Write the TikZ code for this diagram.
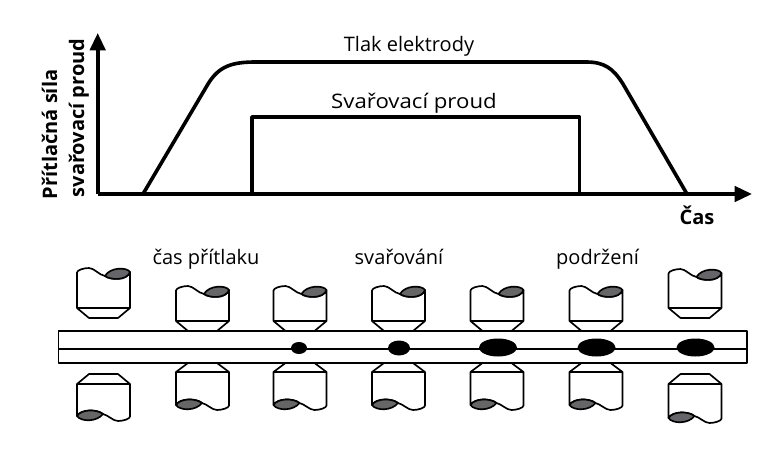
\documentclass[tikz,border=0pt]{standalone}
\usepackage{fontspec}
\setmainfont{Open Sans}
\usetikzlibrary{arrows.meta}
\definecolor{lens}{HTML}{666668}
\tikzset{x=0.75pt,y=-0.75pt,
  heavy/.style={line width=2.7pt,line join=round},
  axis/.style={heavy,-{Triangle[length=13pt,width=11.5pt]}},
  thin/.style={line width=1.25pt,line join=round},
  label/.style={font=\fontsize{15}{18}\selectfont,inner sep=0pt,anchor=base},
  blabel/.style={font=\fontsize{15}{18}\selectfont\bfseries,inner sep=0pt,anchor=base},
  weld/.style={fill=black,draw=none}}
% #1 left x, #2 top y of body (wave peak), #3 shoulder y, #4 tip y
\newcommand{\etop}[4]{%
  \draw[thin,fill=white] (#1,#2+4.5) .. controls (#1,#2+2) and (#1+7,#2) .. (#1+12,#2)
     .. controls (#1+17,#2) and (#1+22,#2+7) .. (#1+28,#2+8)
     .. controls (#1+33,#2+12) and (#1+50,#2+13) .. (#1+53,#2+4)
     -- (#1+53,#3) -- (#1+41,#4) -- (#1+12,#4) -- (#1,#3) -- cycle;
  \draw[thin] (#1,#3) -- (#1+53,#3);
  \draw[thin,fill=lens] (#1+28,#2+8) .. controls (#1+33,#2-1) and (#1+50,#2-1) .. (#1+53,#2+4)
     .. controls (#1+50,#2+13) and (#1+33,#2+12) .. (#1+28,#2+8) -- cycle;}
% #1 left x, #2 tip y, #3 shoulder y, #4 bottom y (wave trough)
\newcommand{\ebot}[4]{%
  \draw[thin,fill=white] (#1+12,#2) -- (#1+41,#2) -- (#1+53,#3) -- (#1+53,#4-4.5)
     .. controls (#1+53,#4-2) and (#1+46,#4) .. (#1+41,#4)
     .. controls (#1+36,#4) and (#1+31,#4-6) .. (#1+26,#4-7)
     .. controls (#1+20,#4-12) and (#1+4,#4-12) .. (#1,#4-5)
     -- (#1,#3) -- cycle;
  \draw[thin] (#1,#3) -- (#1+53,#3);
  \draw[thin,fill=lens] (#1+26,#4-7) .. controls (#1+20,#4+1) and (#1+4,#4+1) .. (#1,#4-5)
     .. controls (#1+4,#4-12) and (#1+20,#4-12) .. (#1+26,#4-7) -- cycle;}
\begin{document}
\begin{tikzpicture}
\useasboundingbox (0,0) rectangle (774,464);
% graph
\coordinate (origin) at (97.7,194);
\draw[axis] (origin) -- (97.7,33);
\draw[axis] (origin) -- (752,194);
\draw[heavy] (143,194) -- (208,84) .. controls (219,66) and (232,62) .. (256,62)
   -- (586,62) .. controls (604,62) and (613,68) .. (623,84) -- (687,194);
\draw[heavy] (252,194) -- (252,117) -- (579.5,117) -- (579.5,194);
\node[label] (tlak) at (409,51) {Tlak elektrody};
\node[label,xscale=1.11] (proud) at (414,108) {Svařovací proud};
\node[blabel] (cas) at (697,224) {Čas};
\node[blabel,rotate=90] (sila) at (57,134.5) {Přítlačná síla};
\node[blabel,rotate=90] (svar) at (84,118) {svařovací proud};
\node[label] (t1) at (206,264) {čas přítlaku};
\node[label] (t2) at (399,264) {svařování};
\node[label] (t3) at (597.5,264) {podržení};
% electrodes
\etop{77}{268}{308}{318}
\ebot{77}{374}{384}{421}
\etop{176}{286}{321}{331}
\ebot{176}{363}{372}{410}
\etop{273.5}{286}{321}{331}
\ebot{273.5}{363}{372}{410}
\etop{372}{286}{321}{331}
\ebot{372}{363}{372}{410}
\etop{470.5}{286}{321}{331}
\ebot{470.5}{363}{372}{410}
\etop{569.5}{286}{321}{331}
\ebot{569.5}{363}{372}{410}
\etop{668.5}{269}{308}{318}
\ebot{668.5}{374}{384}{423}
% plates
\draw[thin] (58.5,330.7) rectangle (747,363);
\draw[thin] (58.5,348.7) -- (747,348.7);
% weld nuggets
\fill[weld] (299,348) ellipse [x radius=8,y radius=6];
\fill[weld] (399,348) ellipse [x radius=11,y radius=7.5];
\fill[weld] (498,347.5) ellipse [x radius=19,y radius=9];
\fill[weld] (596.5,347.5) ellipse [x radius=19,y radius=9];
\fill[weld] (695.5,347.5) ellipse [x radius=19,y radius=9];
\end{tikzpicture}
\end{document}
